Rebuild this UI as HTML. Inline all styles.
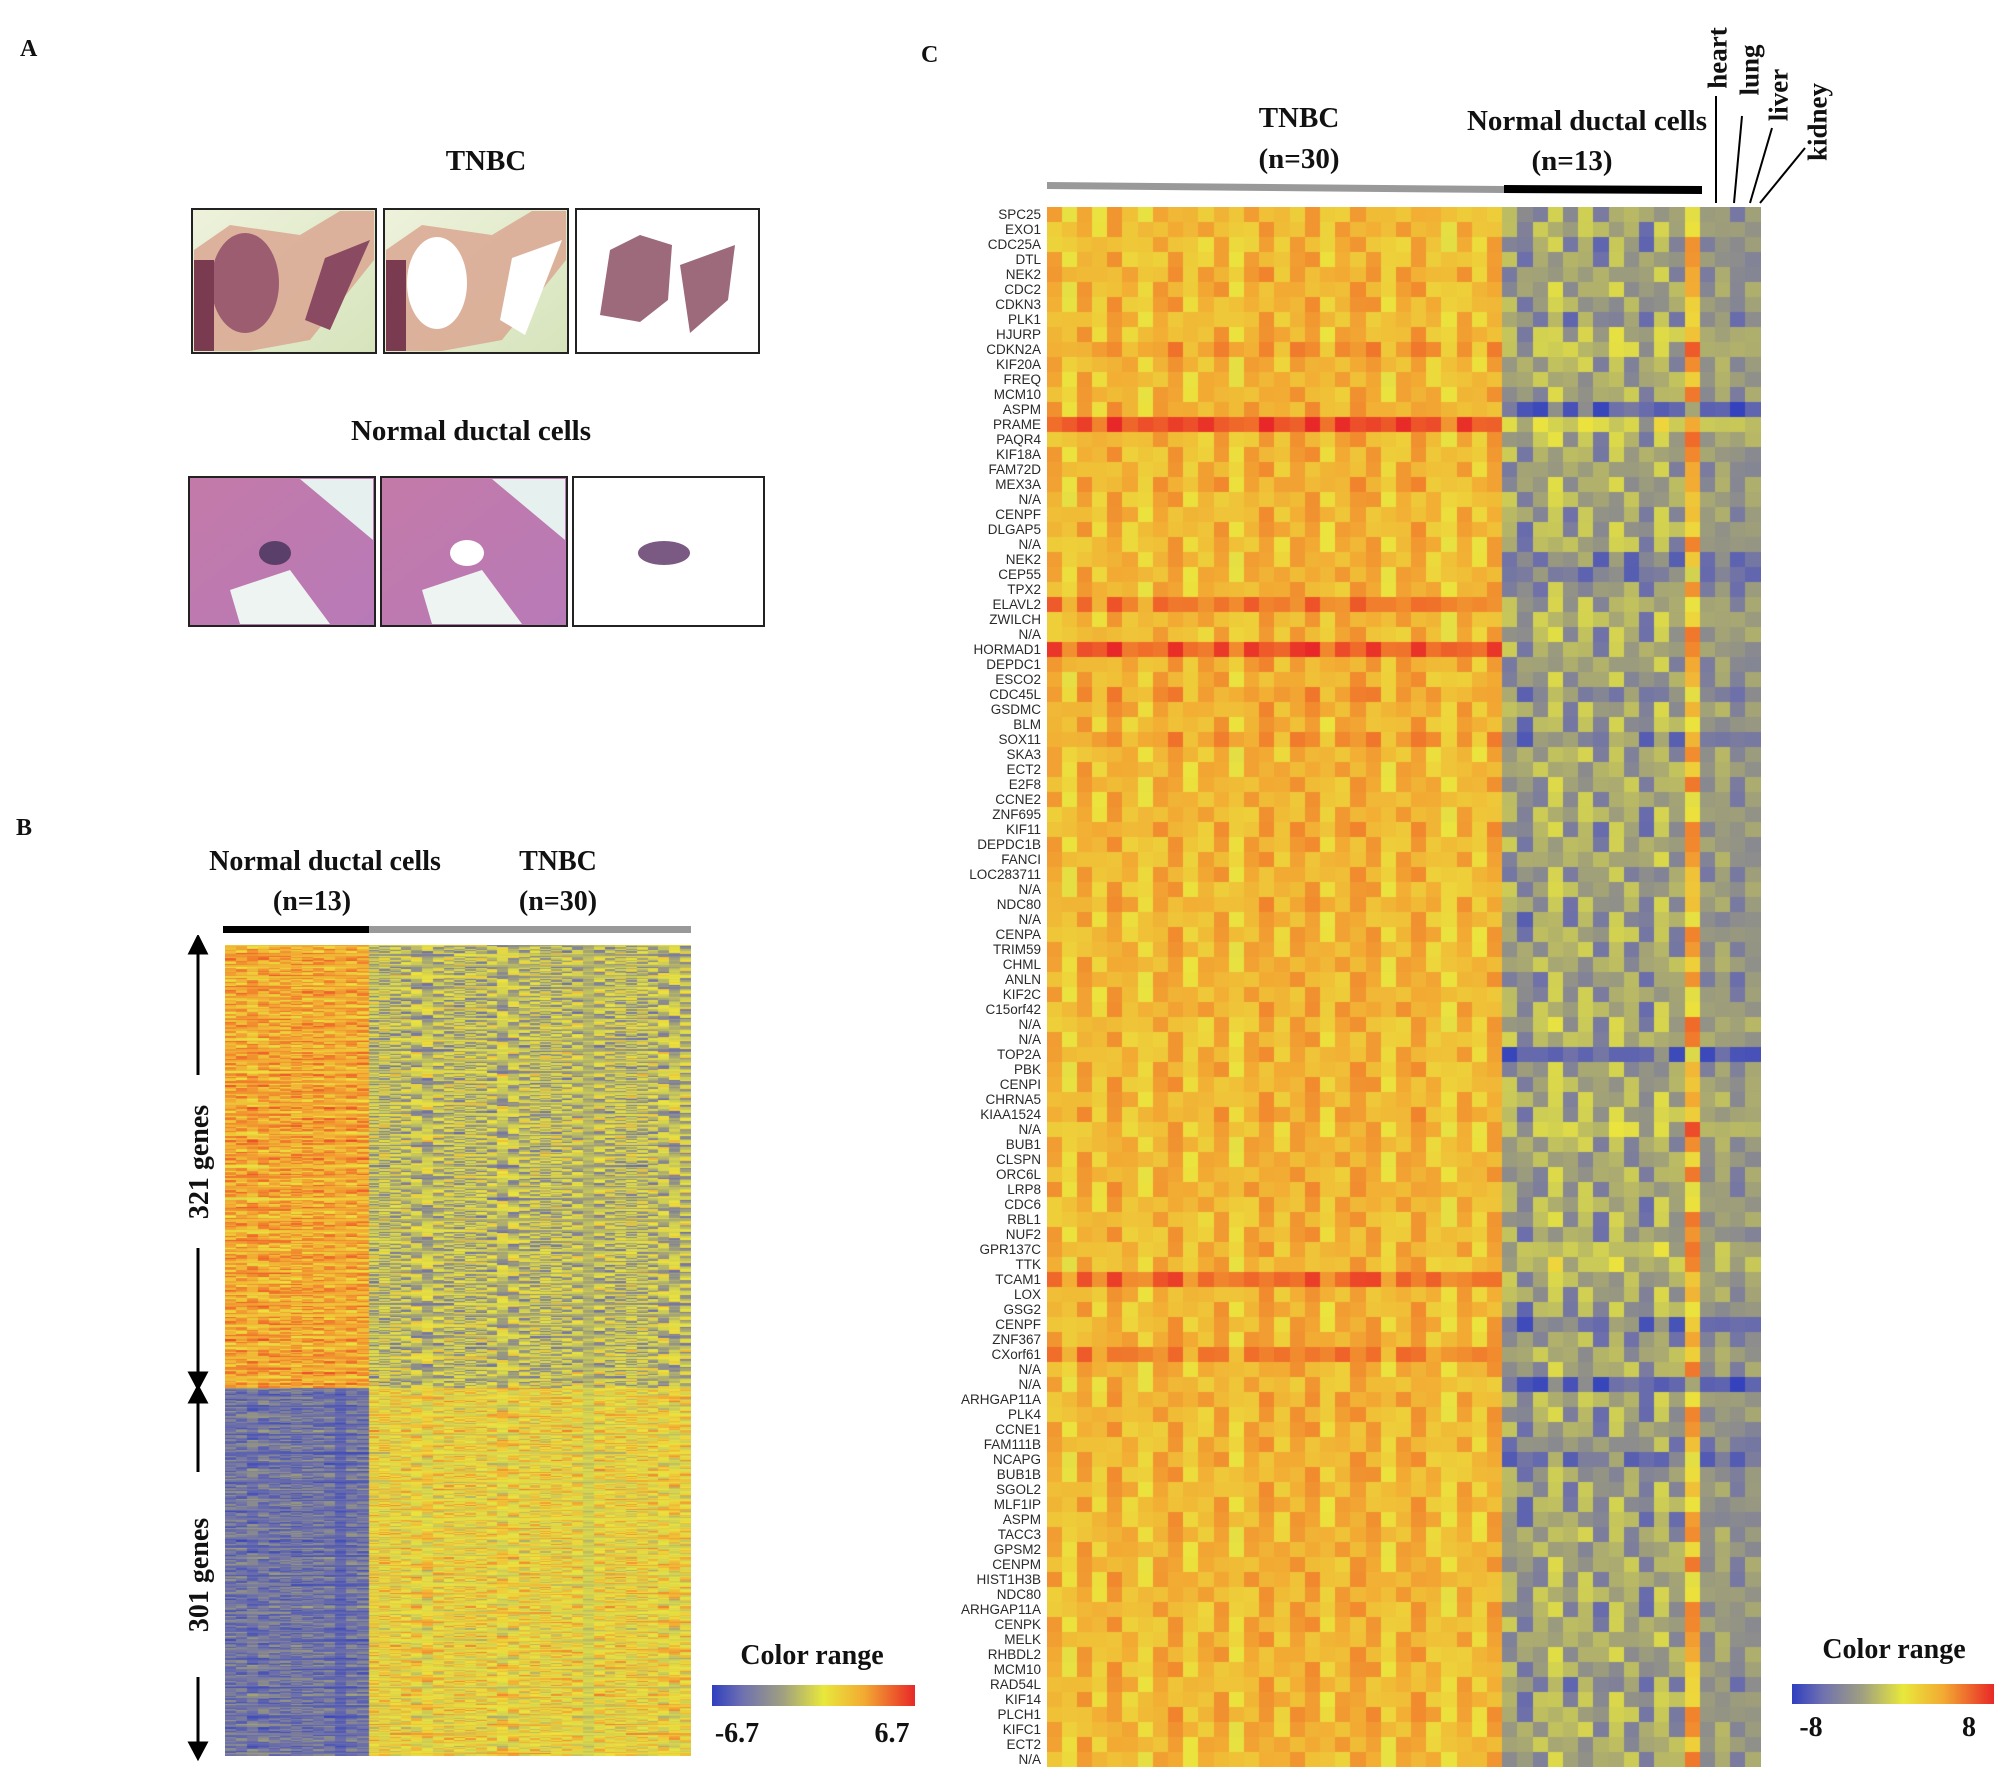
<!DOCTYPE html>
<html><head><meta charset="utf-8">
<style>
html,body{margin:0;padding:0;background:#fff;}
#root{position:relative;width:2007px;height:1773px;overflow:hidden;background:#fff;font-family:"Liberation Serif",serif;}
.t{position:absolute;font-weight:bold;color:#111;white-space:nowrap;}
.c{transform:translateX(-50%);}
.gl{position:absolute;right:966px;font-family:"Liberation Sans",sans-serif;font-size:13.5px;color:#2a2a2a;line-height:15px;text-align:right;white-space:nowrap;}
canvas,svg{position:absolute;}
</style></head>
<body><div id="root">

<div class="t" style="left:20px;top:36px;font-size:24px">A</div>
<div class="t" style="left:16px;top:815px;font-size:24px">B</div>
<div class="t" style="left:921px;top:42px;font-size:24px">C</div>

<div class="t c" style="left:486px;top:145px;font-size:29px">TNBC</div>
<div class="t c" style="left:471px;top:415px;font-size:29px">Normal ductal cells</div>

<svg width="2007" height="700" style="left:0;top:0">
 <defs>
  <linearGradient id="gbg" x1="0" y1="0" x2="1" y2="1"><stop offset="0" stop-color="#eef2dc"/><stop offset="1" stop-color="#d6e4bc"/></linearGradient>
  <linearGradient id="pbg" x1="0" y1="0" x2="1" y2="1"><stop offset="0" stop-color="#c37aa8"/><stop offset="1" stop-color="#b87ab8"/></linearGradient>
 </defs>
 <g>
  <rect x="192" y="209" width="184" height="144" fill="url(#gbg)" stroke="#222" stroke-width="2"/>
  <path d="M194 250 L230 225 L300 235 L340 211 L374 211 L374 260 L310 340 L250 351 L194 351Z" fill="#d9a28f" opacity="0.8"/>
  <ellipse cx="245" cy="283" rx="34" ry="50" fill="#9c5d70"/>
  <path d="M325 258 L370 240 L330 330 L305 320 Z" fill="#8a4a62"/>
  <rect x="194" y="260" width="20" height="91" fill="#7a3a50"/>
 </g>
 <g>
  <rect x="384" y="209" width="184" height="144" fill="url(#gbg)" stroke="#222" stroke-width="2"/>
  <path d="M386 250 L422 225 L492 235 L532 211 L566 211 L566 260 L502 340 L442 351 L386 351Z" fill="#d9a28f" opacity="0.8"/>
  <rect x="386" y="260" width="20" height="91" fill="#7a3a50"/>
  <ellipse cx="437" cy="283" rx="30" ry="46" fill="#fff"/>
  <path d="M512 258 L562 240 L525 335 L500 320 Z" fill="#fff"/>
 </g>
 <g>
  <rect x="576" y="209" width="183" height="144" fill="#fff" stroke="#222" stroke-width="2"/>
  <path d="M610 250 L640 235 L672 245 L668 300 L640 322 L600 315 Z" fill="#9c6a7a"/>
  <path d="M680 265 L735 245 L728 300 L690 333 Z" fill="#9c6a7a"/>
 </g>
 <g>
  <rect x="189" y="477" width="186" height="149" fill="url(#pbg)" stroke="#222" stroke-width="2"/>
  <path d="M300 479 L373 479 L373 540 Z" fill="#e6f0ee"/>
  <path d="M230 590 L290 570 L330 624 L240 624 Z" fill="#eef4f2"/>
  <ellipse cx="275" cy="553" rx="16" ry="12" fill="#5a3f6a"/>
 </g>
 <g>
  <rect x="381" y="477" width="186" height="149" fill="url(#pbg)" stroke="#222" stroke-width="2"/>
  <path d="M492 479 L565 479 L565 540 Z" fill="#e6f0ee"/>
  <path d="M422 590 L482 570 L522 624 L432 624 Z" fill="#eef4f2"/>
  <ellipse cx="467" cy="553" rx="17" ry="13" fill="#fff"/>
 </g>
 <g>
  <rect x="573" y="477" width="191" height="149" fill="#fff" stroke="#222" stroke-width="2"/>
  <ellipse cx="664" cy="553" rx="26" ry="12" fill="#7a5a82"/>
 </g>
</svg>

<!-- Panel B headers -->
<div class="t c" style="left:325px;top:846px;font-size:28px">Normal ductal cells</div>
<div class="t c" style="left:312px;top:886px;font-size:28px">(n=13)</div>
<div class="t c" style="left:558px;top:846px;font-size:28px">TNBC</div>
<div class="t c" style="left:558px;top:886px;font-size:28px">(n=30)</div>
<div style="position:absolute;left:223px;top:926px;width:146px;height:7px;background:#000"></div>
<div style="position:absolute;left:369px;top:926px;width:322px;height:7px;background:#999"></div>

<svg width="120" height="840" style="left:150px;top:935px">
 <g stroke="#000" stroke-width="3" fill="#000">
  <line x1="48" y1="14" x2="48" y2="140"/><line x1="48" y1="313" x2="48" y2="448"/>
  <polygon points="40,18 56,18 48,2" />
  <polygon points="40,438 56,438 48,453"/>
  <polygon points="40,467 56,467 48,452"/>
  <line x1="48" y1="460" x2="48" y2="537"/><line x1="48" y1="742" x2="48" y2="815"/>
  <polygon points="40,808 56,808 48,823"/>
 </g>
</svg>
<div class="t" style="left:200px;top:1162px;font-size:28px;transform:translate(-50%,-50%) rotate(-90deg)">321 genes</div>
<div class="t" style="left:200px;top:1575px;font-size:28px;transform:translate(-50%,-50%) rotate(-90deg)">301 genes</div>

<canvas id="hb" width="466" height="811" style="left:225px;top:945px"></canvas>

<div class="t c" style="left:812px;top:1640px;font-size:28px">Color range</div>
<div style="position:absolute;left:712px;top:1685px;width:203px;height:21px;background:linear-gradient(90deg,#2f3fbf 0%,#6f70b0 15%,#a0a080 35%,#e8e83c 55%,#f2aa32 75%,#e82828 100%)"></div>
<div class="t c" style="left:737px;top:1718px;font-size:28px">-6.7</div>
<div class="t c" style="left:892px;top:1718px;font-size:28px">6.7</div>

<!-- Panel C headers -->
<div class="t c" style="left:1299px;top:102px;font-size:29px">TNBC</div>
<div class="t c" style="left:1299px;top:143px;font-size:29px">(n=30)</div>
<div class="t c" style="left:1587px;top:105px;font-size:29px">Normal ductal cells</div>
<div class="t c" style="left:1572px;top:145px;font-size:29px">(n=13)</div>
<svg width="2007" height="210" style="left:0;top:0">
 <polygon points="1047,182 1504,186 1504,193 1047,189" fill="#999"/>
 <polygon points="1504,185 1702,186 1702,194 1504,193" fill="#000"/>
 <g stroke="#000" stroke-width="2">
  <line x1="1716" y1="96" x2="1716" y2="203"/>
  <line x1="1742" y1="116" x2="1734" y2="203"/>
  <line x1="1772" y1="128" x2="1750" y2="203"/>
  <line x1="1805" y1="148" x2="1760" y2="203"/>
 </g>
</svg>
<div class="t" style="left:1718px;top:58px;font-size:27px;transform:translate(-50%,-50%) rotate(-90deg)">heart</div>
<div class="t" style="left:1750px;top:70px;font-size:27px;transform:translate(-50%,-50%) rotate(-90deg)">lung</div>
<div class="t" style="left:1779px;top:95px;font-size:27px;transform:translate(-50%,-50%) rotate(-90deg)">liver</div>
<div class="t" style="left:1818px;top:122px;font-size:27px;transform:translate(-50%,-50%) rotate(-90deg)">kidney</div>

<div id="genes"></div>
<canvas id="hc" width="714" height="1560" style="left:1047px;top:207px"></canvas>

<div class="t c" style="left:1894px;top:1634px;font-size:28px">Color range</div>
<div style="position:absolute;left:1792px;top:1684px;width:202px;height:20px;background:linear-gradient(90deg,#2f3fbf 0%,#6f70b0 15%,#a0a080 35%,#e8e83c 55%,#f2aa32 75%,#e82828 100%)"></div>
<div class="t c" style="left:1811px;top:1712px;font-size:28px">-8</div>
<div class="t c" style="left:1969px;top:1712px;font-size:28px">8</div>

<script>
const genes=["SPC25","EXO1","CDC25A","DTL","NEK2","CDC2","CDKN3","PLK1","HJURP","CDKN2A","KIF20A","FREQ","MCM10","ASPM","PRAME","PAQR4","KIF18A","FAM72D","MEX3A","N/A","CENPF","DLGAP5","N/A","NEK2","CEP55","TPX2","ELAVL2","ZWILCH","N/A","HORMAD1","DEPDC1","ESCO2","CDC45L","GSDMC","BLM","SOX11","SKA3","ECT2","E2F8","CCNE2","ZNF695","KIF11","DEPDC1B","FANCI","LOC283711","N/A","NDC80","N/A","CENPA","TRIM59","CHML","ANLN","KIF2C","C15orf42","N/A","N/A","TOP2A","PBK","CENPI","CHRNA5","KIAA1524","N/A","BUB1","CLSPN","ORC6L","LRP8","CDC6","RBL1","NUF2","GPR137C","TTK","TCAM1","LOX","GSG2","CENPF","ZNF367","CXorf61","N/A","N/A","ARHGAP11A","PLK4","CCNE1","FAM111B","NCAPG","BUB1B","SGOL2","MLF1IP","ASPM","TACC3","GPSM2","CENPM","HIST1H3B","NDC80","ARHGAP11A","CENPK","MELK","RHBDL2","MCM10","RAD54L","KIF14","PLCH1","KIFC1","ECT2","N/A"];
const tnbcRow=[0.4,0.42,0.38,0.4,0.45,0.42,0.42,0.4,0.42,0.52, 0.42,0.4,0.42,0.45,0.82,0.42,0.42,0.42,0.45,0.4, 0.42,0.42,0.4,0.42,0.42,0.42,0.65,0.42,0.4,0.78, 0.45,0.42,0.5,0.45,0.42,0.52,0.4,0.42,0.42,0.42, 0.42,0.45,0.42,0.42,0.42,0.4,0.45,0.4,0.42,0.42, 0.42,0.42,0.42,0.45,0.4,0.4,0.42,0.42,0.42,0.42, 0.45,0.4,0.42,0.42,0.42,0.45,0.42,0.4,0.42,0.42, 0.4,0.7,0.42,0.42,0.42,0.45,0.62,0.42,0.4,0.45, 0.42,0.42,0.42,0.42,0.42,0.42,0.42,0.42,0.42,0.42, 0.42,0.45,0.42,0.42,0.42,0.42,0.42,0.42,0.42,0.42, 0.45,0.42,0.42,0.4];
const normalRow=[-0.3,-0.25,-0.35,-0.3,-0.3,-0.25,-0.3,-0.4,-0.15,-0.1, -0.25,-0.25,-0.25,-0.72,0.0,-0.2,-0.25,-0.3,-0.25,-0.25, -0.3,-0.25,-0.25,-0.5,-0.55,-0.35,-0.25,-0.2,-0.25,-0.25, -0.3,-0.3,-0.45,-0.25,-0.3,-0.45,-0.25,-0.25,-0.25,-0.3, -0.25,-0.3,-0.25,-0.25,-0.35,-0.25,-0.3,-0.35,-0.25,-0.3, -0.25,-0.35,-0.3,-0.25,-0.2,-0.2,-0.7,-0.3,-0.25,-0.2, -0.2,-0.05,-0.25,-0.3,-0.25,-0.3,-0.25,-0.25,-0.3,-0.1, -0.1,-0.25,-0.25,-0.3,-0.55,-0.35,-0.25,-0.25,-0.72,-0.25, -0.3,-0.3,-0.4,-0.58,-0.35,-0.3,-0.3,-0.35,-0.25,-0.3, -0.25,-0.3,-0.25,-0.3,-0.25,-0.25,-0.25,-0.3,-0.4,-0.25, -0.25,-0.25,-0.25,-0.25];
const tnbcCol=[0.05,-0.1,0.08,-0.05,0.1,0,-0.08,0.06,0.1,-0.05,0.02,0.08,-0.1,0.05,0.1,0,0.08,0.1,-0.05,0.05,0.1,0.08,-0.08,0.05,0.1,0,-0.1,0.05,-0.05,0.08];
const normalCol=[0.0,-0.15,0.0,0.18,-0.05,0.08,-0.1,0.12,0.0,-0.15,0.12,-0.05,0.72];
const tissueCol=[-0.1,0.0,-0.15,-0.05];
const rowPattern=[0.12,-0.08,0.05,-0.12,0.1,0.02,-0.1,0.08,-0.04,0.12,-0.06,0.0,0.09];

function cmap(v){
  const s=[[-1,[47,63,191]],[-0.6,[110,112,170]],[-0.3,[155,155,125]],[0.0,[205,205,85]],[0.25,[235,228,62]],[0.5,[242,175,52]],[0.75,[240,110,42]],[1,[232,40,40]]];
  v=Math.max(-1,Math.min(1,v));
  for(let i=1;i<s.length;i++){ if(v<=s[i][0]){const a=s[i-1],b=s[i],t=(v-a[0])/(b[0]-a[0]);
    return 'rgb('+[0,1,2].map(k=>Math.round(a[1][k]+(b[1][k]-a[1][k])*t)).join(',')+')';}}
  return 'rgb(232,40,40)';
}
(function(){
  const g=document.getElementById('genes');
  genes.forEach((n,i)=>{const d=document.createElement('div');d.className='gl';d.style.top=(207+i*15)+'px';d.textContent=n;
    
    
    g.appendChild(d);});
  const cv=document.getElementById('hc'),cx=cv.getContext('2d');
  const nT=tnbcCol.length,nN=normalCol.length,nS=tissueCol.length,nC=nT+nN+nS;
  const cw=714/nC,rh=1560/genes.length;
  const xs=c=>c*cw, ys=r=>r*rh;
  for(let r=0;r<genes.length;r++){
    for(let c=0;c<nC;c++){
      let v,p=rowPattern[(r*3+c)%rowPattern.length];
      if(c<nT) v=tnbcRow[r]+tnbcCol[c]+p;
      else if(c<nT+nN) v=normalRow[r]+normalCol[c-nT]+p*2;
      else v=normalRow[r]+tissueCol[c-nT-nN]+p;
      cx.fillStyle=cmap(v);
      cx.fillRect(Math.floor(xs(c)),Math.floor(ys(r)),Math.ceil(cw)+1,Math.ceil(rh)+1);
    }
  }
})();
const bGroups=[{name:'up',rows:321,normal:0.5,tnbc:-0.1},{name:'down',rows:301,normal:-0.6,tnbc:0.22}];
const bNormalCols=13,bTnbcCols=30;
const bBandLevels=[0.1,-0.05,0.15,0,-0.1,0.2,0.05,-0.15,0.1,0,0.25,-0.1,0.05,0.15,-0.05,0.1,-0.2,0.05,0.2,0,-0.1,0.1,0.15,-0.05];
(function(){
  const cv=document.getElementById('hb'),cx=cv.getContext('2d');
  const nC=bNormalCols+bTnbcCols;
  const heights=[443,368];
  const xs=c=> c<bNormalCols ? c*(144/bNormalCols) : 144+(c-bNormalCols)*(322/bTnbcCols);
  let y0=0;
  bGroups.forEach((g,k)=>{
    const rh=heights[k]/g.rows;
    for(let r=0;r<g.rows;r++){
      const band=bBandLevels[(r*7+k*5)%bBandLevels.length]*0.7;
      for(let c=0;c<nC;c++){
        const h=((r*131+Math.floor(c/2)*71+r*c*3+k*17)%23)/22-0.5;
        const base=c<bNormalCols?g.normal:g.tnbc;
        const amp=c<bNormalCols?0.4:(k===0?0.85:0.6);
        const v=base+band+h*amp;
        cx.fillStyle=cmap(v);
        const x0=xs(c),x1=xs(c+1);
        cx.fillRect(Math.floor(x0),Math.floor(y0+r*rh),Math.ceil(x1-x0)+1,Math.ceil(rh)+1);
      }
    }
    y0+=heights[k];
  });
})();
</script>
</div></body></html>
